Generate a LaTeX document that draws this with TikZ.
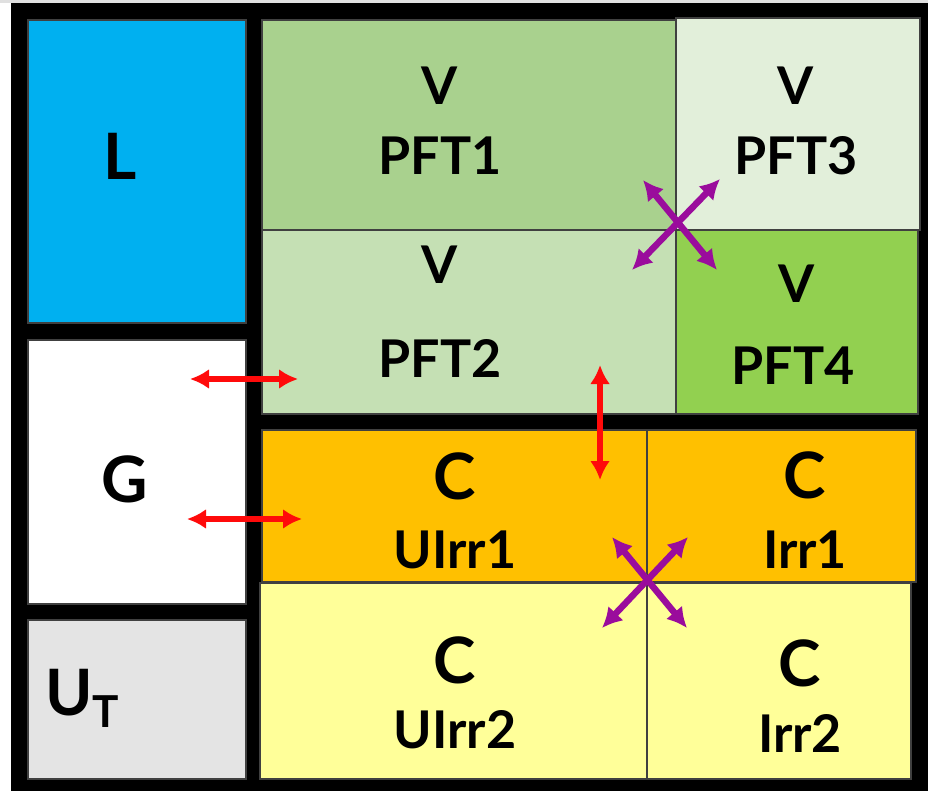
\documentclass[tikz,border=0pt]{standalone}
\usepackage{fontspec}
\setmainfont{Lato}
\usetikzlibrary{arrows.meta}
\definecolor{cL}{HTML}{00B0F0}
\definecolor{cP1}{HTML}{A9D18E}
\definecolor{cP2}{HTML}{C5E0B4}
\definecolor{cP3}{HTML}{E2EFDA}
\definecolor{cP4}{HTML}{92D050}
\definecolor{cOr}{HTML}{FFC000}
\definecolor{cYe}{HTML}{FFFF99}
\definecolor{cUT}{HTML}{E4E4E4}
\definecolor{cPur}{HTML}{9A0C9C}
\definecolor{cRed}{HTML}{FF0A0A}
\begin{document}
\begin{tikzpicture}[x=1pt,y=-1pt,
  box/.style={draw=black!75, line width=2pt, inner sep=0pt, outer sep=0pt, anchor=north west},
  lbl/.style={anchor=base, inner sep=0pt, font=\fontsize{52}{52}\selectfont\bfseries},
  biglbl/.style={anchor=base, inner sep=0pt, font=\fontsize{64}{64}\selectfont\bfseries},
  redarrow/.style={draw=cRed, line width=5.5pt, {Latex[length=19pt,width=20pt]}-{Latex[length=19pt,width=20pt]}},
  purarrow/.style={draw=cPur, line width=6.5pt, {Latex[length=20pt,width=21pt]}-{Latex[length=20pt,width=21pt]}}
]
\useasboundingbox (0,0) rectangle (928,791);
\fill[white] (0,0) rectangle (928,791);
\fill[black!12] (0,0) rectangle (928,3);
\fill[black] (11,3) rectangle (928,791);

% boxes
\node[box, fill=cL, minimum width=218pt, minimum height=303pt] (L) at (28,20) {};
\node[box, fill=white, minimum width=218pt, minimum height=264pt] (G) at (28,340) {};
\node[box, fill=cUT, minimum width=218pt, minimum height=159pt] (UT) at (28,620) {};
\node[box, fill=cP1, minimum width=414pt, minimum height=210pt] (P1) at (262,20) {};
\node[box, fill=cP2, minimum width=414pt, minimum height=184pt] (P2) at (262,230) {};
\node[box, fill=cP3, minimum width=244pt, minimum height=212pt] (P3) at (676,18) {};
\node[box, fill=cP4, minimum width=242pt, minimum height=184pt] (P4) at (676,230) {};
\node[box, fill=cOr, minimum width=385pt, minimum height=152pt] (U1) at (262,430) {};
\node[box, fill=cOr, minimum width=269pt, minimum height=152pt] (I1) at (647,430) {};
\node[box, fill=cYe, minimum width=387pt, minimum height=196pt] (U2) at (260,583) {};
\node[box, fill=cYe, minimum width=264pt, minimum height=196pt] (I2) at (647,583) {};

% labels
\node[biglbl] (tL) at (120,180) {L};
\node[biglbl] (tG) at (125,502) {G};
\node[biglbl, anchor=base west] (tU) at (45,715) {U\raisebox{-12pt}{\fontsize{44}{44}\selectfont T}};

\node[lbl] (tV1) at (440,105) {V};
\node[lbl] (tP1) at (440,175) {PFT1};
\node[lbl] (tV3) at (796,105) {V};
\node[lbl] (tP3) at (796,175) {PFT3};
\node[lbl] (tV2) at (440,284) {V};
\node[lbl] (tP2) at (440,377) {PFT2};
\node[lbl] (tV4) at (797,303) {V};
\node[lbl] (tP4) at (793,384) {PFT4};

\node[biglbl] (tC1) at (455,499) {C};
\node[lbl] (tU1) at (455,568) {UIrr1};
\node[biglbl] (tC2) at (805,498) {C};
\node[lbl] (tI1) at (805,568) {Irr1};
\node[biglbl] (tC3) at (455,683) {C};
\node[lbl] (tU2) at (455,748) {UIrr2};
\node[biglbl] (tC4) at (800,686) {C};
\node[lbl] (tI2) at (800,752) {Irr2};

% red arrows
\coordinate (r1a) at (190,379); \coordinate (r1b) at (298,379);
\coordinate (r2a) at (187,519); \coordinate (r2b) at (302,519);
\coordinate (r3a) at (600,365); \coordinate (r3b) at (600,480);
\draw[redarrow] (r1a) -- (r1b);
\draw[redarrow] (r2a) -- (r2b);
\draw[redarrow] (r3a) -- (r3b);

% purple crosses
\coordinate (x1a) at (643,180); \coordinate (x1b) at (717,270);
\coordinate (x1c) at (720,179); \coordinate (x1d) at (632,270);
\draw[purarrow] (x1a) -- (x1b);
\draw[purarrow] (x1c) -- (x1d);
\coordinate (x2a) at (612,537); \coordinate (x2b) at (687,628);
\coordinate (x2c) at (688,537); \coordinate (x2d) at (602,628);
\draw[purarrow] (x2a) -- (x2b);
\draw[purarrow] (x2c) -- (x2d);
\end{tikzpicture}
\end{document}
